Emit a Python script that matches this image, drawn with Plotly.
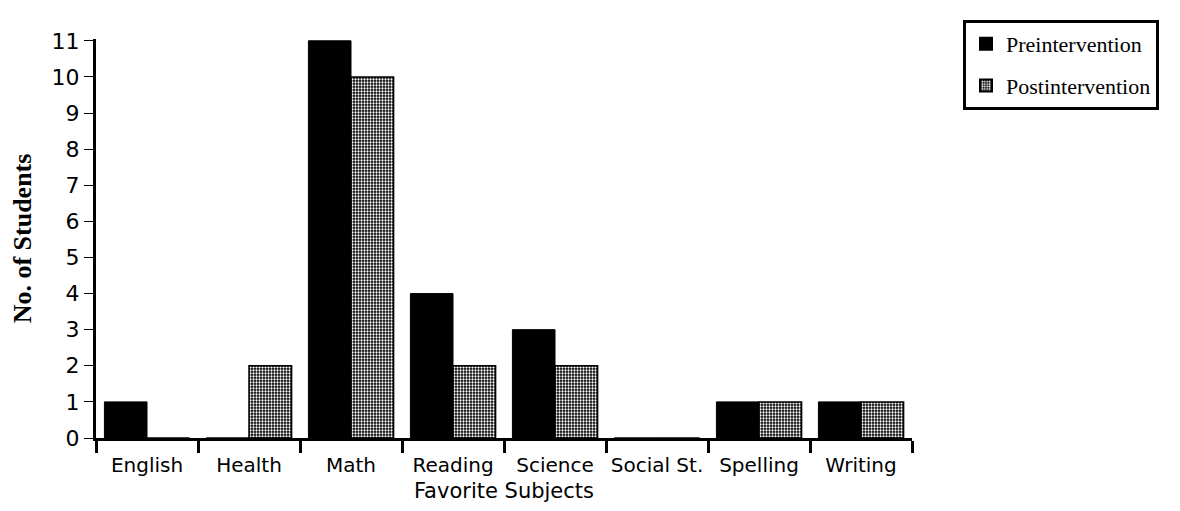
import plotly.graph_objects as go

categories = ["English", "Health", "Math", "Reading", "Science", "Social St.", "Spelling", "Writing"]
pre_values = [1, 0, 11, 4, 3, 0, 1, 1]
post_values = [0, 2, 10, 2, 2, 0, 1, 1]
y_ticks = list(range(0, 12))

fig = go.Figure()
fig.add_trace(go.Bar(
    x=categories, y=pre_values, name="Preintervention", legendgroup="a",
    marker=dict(color="black", line=dict(color="black", width=1)),
))
fig.add_trace(go.Bar(
    x=categories, y=post_values, name="Postintervention", legendgroup="b",
    marker=dict(color="black", line=dict(color="black", width=1.5),
                pattern=dict(shape=".", fgcolor="white", bgcolor="black",
                             size=3, solidity=0.45, fillmode="replace")),
))

fig.update_layout(
    width=1180, height=511,
    margin=dict(l=88, r=276, t=31, b=81, autoexpand=False),
    paper_bgcolor="white", plot_bgcolor="white",
    barmode="group", bargap=0.165, bargroupgap=0,
    showlegend=True,
    legend=dict(
        x=1.0625, y=1.0476, xanchor="left", yanchor="top",
        bordercolor="black", borderwidth=3, bgcolor="white",
        font=dict(family="Liberation Serif", size=22, color="black"),
        itemsizing="constant", tracegroupgap=10,
    ),
    xaxis=dict(
        showline=True, linecolor="black", linewidth=3,
        ticks="outside", tickson="boundaries", ticklen=12, tickwidth=3, tickcolor="black",
        tickangle=0, ticklabelstandoff=7,
        tickfont=dict(family="DejaVu Sans", size=20, color="black"),
        title=dict(text="Favorite Subjects", standoff=8,
                   font=dict(family="DejaVu Sans", size=21, color="black")),
        showgrid=False, zeroline=False, automargin=False,
    ),
    yaxis=dict(
        range=[0, 11.05],
        tickvals=y_ticks, ticktext=[str(v) for v in y_ticks],
        showline=True, linecolor="black", linewidth=3,
        ticks="outside", ticklen=9, tickwidth=1, tickcolor="black",
        tickfont=dict(family="DejaVu Sans", size=22, color="black"),
        title=dict(text="<b>No. of Students</b>", standoff=18,
                   font=dict(family="Liberation Serif", size=26, color="black")),
        showgrid=False, zeroline=False, automargin=False,
    ),
)

fig.write_html("out.html")
